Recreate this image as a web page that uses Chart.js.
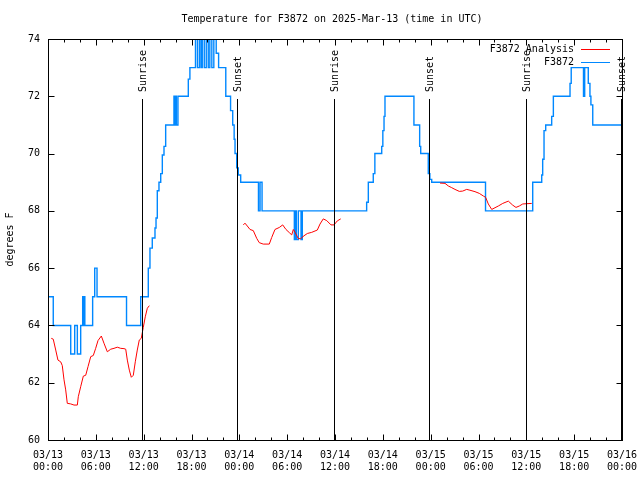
<!DOCTYPE html>
<html>
<head>
<meta charset="utf-8">
<script src="https://cdn.jsdelivr.net/npm/chart.js@4.4.1/dist/chart.umd.min.js"></script>
<style>
  html, body { margin: 0; padding: 0; background: #fff; }
  canvas { display: block; }
</style>
</head>
<body>
<canvas id="myChart" width="640" height="480"></canvas>
<script>
// hours since 03/13 00:00 UTC
const tickDates = ['03/13', '03/13', '03/13', '03/13', '03/14', '03/14', '03/14', '03/14', '03/15', '03/15', '03/15', '03/15', '03/16'];
const tickTimes = ['00:00', '06:00', '12:00', '18:00', '00:00', '06:00', '12:00', '18:00', '00:00', '06:00', '12:00', '18:00', '00:00'];

const sunriseHours = [11.83, 35.88, 59.96];
const sunsetHours = [23.75, 47.83, 71.83];

// station obs: time of change, new value (drawn as steps)
const stationHours = [0, 0.66, 2.85, 3.35, 3.68, 4.10, 4.35, 4.45, 4.55, 4.62, 5.6, 5.86, 6.15, 9.85, 11.63,
  12.58, 12.79, 13.08, 13.42, 13.55, 13.71, 13.92, 14.14, 14.34, 14.55, 14.76, 15.8, 15.9, 16.0, 16.1, 16.3,
  17.6, 17.8, 18.5, 18.75, 19.0, 19.2, 19.35, 19.6, 19.85, 20.1, 20.3, 20.55, 20.8, 21.1, 21.4,
  22.3, 22.9, 23.17, 23.35, 23.46, 23.67, 23.87, 24.17, 26.4, 26.6, 26.85, 30.9, 31.07, 31.15, 31.4, 31.74, 31.9,
  39.97, 40.18, 40.8, 41.0, 41.86, 42.0, 42.15, 42.27, 45.9, 46.62, 46.75, 47.7, 47.9, 48.13, 54.88,
  60.8, 61.93, 62.05, 62.22, 62.43, 63.18, 63.39, 65.48, 65.63, 67.17, 67.32, 67.77, 67.98, 68.1, 68.33, 71.9];
const stationTemps = [65, 64, 63, 64, 63, 64, 65, 64, 65, 64, 65, 66, 65, 64, 65,
  66, 66.7, 67.05, 67.4, 67.75, 68.7, 69.0, 69.3, 69.95, 70.25, 71, 72, 71, 72, 71, 72,
  72.6, 73, 74, 73, 74, 73, 74, 73, 74, 73, 74, 73, 74, 73.5, 73,
  72, 71.5, 71, 70.5, 70, 69.5, 69.25, 69, 68, 69, 68, 67, 68, 67, 68, 67, 68,
  68.3, 69, 69.3, 70, 70.25, 70.8, 71.3, 72, 71, 70.25, 70, 69.3, 69.1, 69, 68,
  69, 69.25, 69.8, 70.8, 71, 71.3, 72, 72.45, 73, 72, 73, 72.45, 72, 71.7, 71, 71];

// analysis, null = gap between runs
const analysisHours = [0.41, 0.66, 0.97, 1.25, 1.59, 1.79, 2.01, 2.22, 2.42, 2.85, 3.26, 3.68, 3.80, 4.10, 4.43,
  4.73, 5.02, 5.36, 5.68, 5.98, 6.27, 6.69, 7.02, 7.44, 7.87, 8.28, 8.69, 9.12, 9.53, 9.75, 9.95, 10.2,
  10.45, 10.7, 10.95, 11.2, 11.45, 11.7, 11.95, 12.2, 12.46, 12.71,
  18.0,
  24.5, 24.71, 25.0, 25.34, 25.75, 26.18, 26.5, 27.0, 27.76, 28.06, 28.47, 29.01, 29.44, 29.85, 30.27,
  30.57, 30.77, 30.98, 31.4, 31.7, 32.11, 32.53, 33.08, 33.78, 34.12, 34.53, 34.96, 35.5, 35.88, 36.29, 36.72,
  42.0,
  49.17, 49.8, 50.21, 50.64, 51.05, 51.59, 52.02, 52.52, 52.93, 53.56, 54.1, 54.6, 54.9, 55.23, 55.66,
  56.07, 56.49, 57.04, 57.74, 58.29, 58.7, 59.12, 59.55, 60.05, 60.68];
const analysisTemps = [63.55, 63.52, 63.14, 62.79, 62.73, 62.6, 62.1, 61.75, 61.28, 61.26, 61.22, 61.22, 61.51, 61.86, 62.23,
  62.26, 62.56, 62.91, 62.95, 63.2, 63.47, 63.63, 63.38, 63.08, 63.17, 63.2, 63.24, 63.2, 63.19, 63.17, 62.79, 62.44,
  62.19, 62.26, 62.73, 63.14, 63.49, 63.55, 63.93, 64.3, 64.6, 64.69,
  null,
  67.51, 67.57, 67.47, 67.35, 67.31, 67.04, 66.89, 66.84, 66.84, 67.07, 67.35, 67.42, 67.51, 67.35, 67.24,
  67.16, 67.35, 67.26, 67.03, 67.03, 67.13, 67.21, 67.25, 67.33, 67.54, 67.72, 67.66, 67.51, 67.51, 67.65, 67.72,
  null,
  68.97, 68.96, 68.87, 68.81, 68.75, 68.68, 68.69, 68.75, 68.72, 68.67, 68.61, 68.52, 68.47, 68.24, 68.05,
  68.11, 68.17, 68.26, 68.34, 68.2, 68.12, 68.17, 68.24, 68.25, 68.26];

const FONT = '"DejaVu Sans Mono", "Liberation Mono", monospace';

const gnuplotDecor = {
  id: 'gnuplotDecor',
  afterDatasetsDraw(chart) {
    const ctx = chart.ctx;
    const a = chart.chartArea;
    const xs = chart.scales.x;
    const ys = chart.scales.y;
    const L = Math.round(a.left) + 0.5, R = Math.round(a.right) + 0.5;
    const T = Math.round(a.top) + 0.5, B = Math.round(a.bottom) + 0.5;
    ctx.save();
    ctx.strokeStyle = '#000';
    ctx.lineWidth = 1;

    // ticks, inward, mirrored
    ctx.beginPath();
    for (let h = 0; h <= 72; h += 2) {
      const x = Math.round(xs.getPixelForValue(h)) + 0.5;
      const len = h % 6 === 0 ? 6 : 3;
      ctx.moveTo(x, B); ctx.lineTo(x, B - len);
      ctx.moveTo(x, T); ctx.lineTo(x, T + len);
    }
    for (let v = 60; v <= 74; v += 2) {
      const y = Math.round(ys.getPixelForValue(v)) + 0.5;
      ctx.moveTo(L, y); ctx.lineTo(L + 6, y);
      ctx.moveTo(R, y); ctx.lineTo(R - 6, y);
    }
    ctx.stroke();

    // sunrise / sunset
    ctx.font = '10px ' + FONT;
    ctx.fillStyle = '#000';
    const sunLine = (h, label) => {
      const x = Math.round(xs.getPixelForValue(h)) + 0.5;
      ctx.beginPath();
      ctx.moveTo(x, B); ctx.lineTo(x, 99);
      ctx.stroke();
      ctx.save();
      ctx.translate(x + 1, 92);
      ctx.rotate(-Math.PI / 2);
      ctx.textAlign = 'left';
      ctx.textBaseline = 'middle';
      ctx.fillText(label, 0, 0);
      ctx.restore();
    };
    sunriseHours.forEach(h => sunLine(h, 'Sunrise'));
    sunsetHours.forEach(h => sunLine(h, 'Sunset'));

    // border
    ctx.strokeRect(L, T, R - L, B - T);

    // title
    ctx.textAlign = 'center';
    ctx.textBaseline = 'middle';
    ctx.fillText('Temperature for F3872 on 2025-Mar-13 (time in UTC)', 332, 19);

    // legend
    ctx.textAlign = 'right';
    chart.data.datasets.forEach((ds, i) => {
      const y = 49 + i * 13;
      ctx.fillStyle = '#000';
      ctx.fillText(ds.label, 574, y);
      ctx.strokeStyle = ds.borderColor;
      ctx.beginPath();
      ctx.moveTo(581, y + 0.5); ctx.lineTo(610, y + 0.5);
      ctx.stroke();
    });
    ctx.restore();
  }
};

const ctx = document.getElementById('myChart').getContext('2d');
const myChart = new Chart(ctx, {
  type: 'line',
  data: {
    datasets: [{
      label: 'F3872 Analysis',
      data: analysisHours.map((h, i) => ({ x: h, y: analysisTemps[i] })),
      borderColor: 'rgb(255, 0, 0)',
      borderWidth: 1,
      pointRadius: 0,
      tension: 0,
      spanGaps: false
    }, {
      label: 'F3872',
      data: stationHours.map((h, i) => ({ x: h, y: stationTemps[i] })),
      borderColor: 'rgb(0, 136, 255)',
      borderWidth: 1.4,
      pointRadius: 0,
      stepped: 'before'
    }]
  },
  options: {
    responsive: false,
    animation: false,
    devicePixelRatio: 1,
    layout: { padding: { left: 0, right: 18, top: 39, bottom: 0 } },
    plugins: {
      legend: { display: false },
      title: { display: false },
      tooltip: { enabled: false }
    },
    scales: {
      x: {
        type: 'linear',
        min: 0,
        max: 72,
        afterFit: s => { s.height = 40; s.paddingLeft = 0; s.paddingRight = 0; },
        grid: { display: false, drawTicks: false },
        border: { display: false },
        ticks: {
          stepSize: 6,
          autoSkip: false,
          maxRotation: 0,
          padding: 9,
          color: '#000',
          font: { family: FONT, size: 10, lineHeight: 1.2 },
          callback: v => [tickDates[v / 6], tickTimes[v / 6]]
        }
      },
      y: {
        min: 60,
        max: 74,
        afterFit: s => { s.width = 48; s.paddingTop = 0; s.paddingBottom = 0; },
        grid: { display: false, drawTicks: false },
        border: { display: false },
        title: {
          display: true,
          text: 'degrees F',
          color: '#000',
          font: { family: FONT, size: 10 }
        },
        ticks: {
          stepSize: 2,
          padding: 8,
          color: '#000',
          font: { family: FONT, size: 10 }
        }
      }
    }
  },
  plugins: [gnuplotDecor]
});
</script>
</body>
</html>
